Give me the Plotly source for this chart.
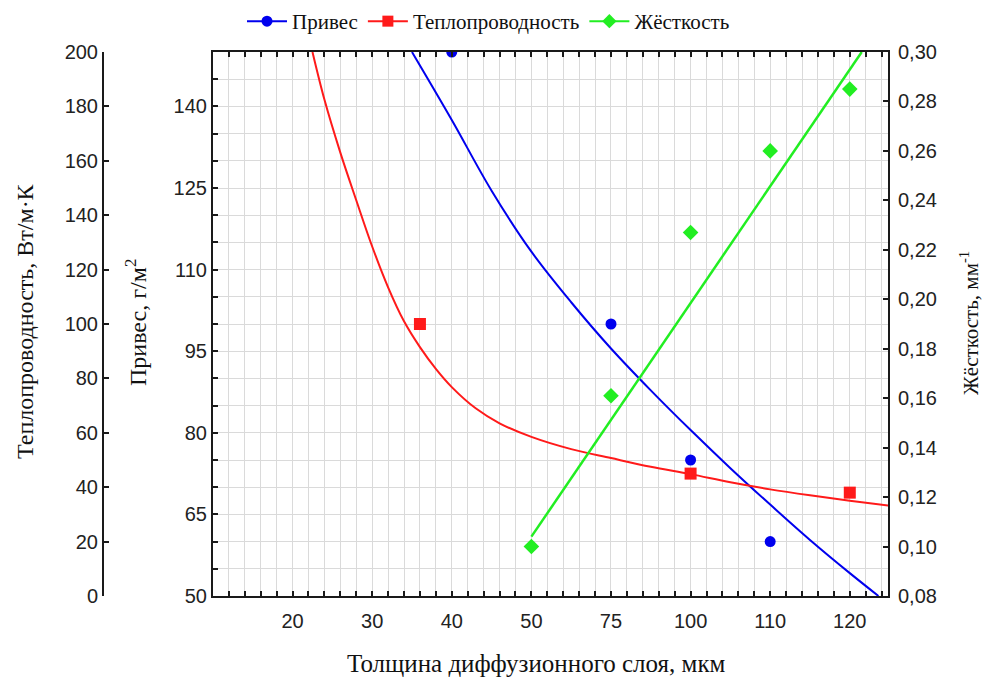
import plotly.graph_objects as go

# x positions of the tick labels along the thickness axis (evenly spaced)
x_pos = [20, 30, 40, 50, 60, 70, 80, 90]
x_labels = ["20", "30", "40", "50", "75", "100", "110", "120"]

# Привес, г/м2 — measured points and fitted curve
weight_x = [40, 60, 70, 80]
weight_y = [150, 100, 75, 60]
weight_fit_x = [35, 40, 45, 50, 55, 60, 65, 70, 75, 80, 85, 90, 93.6]
weight_fit_y = [150, 137.5, 124.5, 113.3, 104, 95.5, 87.8, 80.5, 73.5, 66.8, 60.3, 54.2, 50]

# Теплопроводность, Вт/м·К — measured points and fitted curve
cond_x = [36, 70, 90]
cond_y = [100, 45, 38]
cond_fit_x = [22.5, 24, 26, 28, 30, 32, 34, 36, 38, 40, 43, 46, 50, 55, 60, 65, 70, 75, 80, 85, 90, 95]
cond_fit_y = [200, 182.5, 163, 145.5, 128.5, 113.5, 101, 91.5, 83.5, 76.8, 69, 63.5, 58.5, 54,
              50.7, 47.5, 44.8, 41.8, 39.2, 37, 35, 33.2]

# Жёсткость, мм-1 — measured points and linear fit
stiff_x = [50, 60, 70, 80, 90]
stiff_y = [0.10, 0.161, 0.227, 0.26, 0.285]
stiff_fit_x = [50, 91.5]
stiff_fit_y = [0.104, 0.30]

BLUE = "#0000ee"
RED = "#ff1a1a"
GREEN = "#22ee22"
SANS = "Liberation Sans, Arial, sans-serif"
SERIF = "Liberation Serif, Times New Roman, serif"

fig = go.Figure()

# fitted curves
fig.add_trace(go.Scatter(x=weight_fit_x, y=weight_fit_y, mode="lines", line=dict(color=BLUE, width=2, shape="spline"),
                         showlegend=False, yaxis="y"))
fig.add_trace(go.Scatter(x=cond_fit_x, y=cond_fit_y, mode="lines", line=dict(color=RED, width=2, shape="spline"),
                         showlegend=False, yaxis="y2"))
fig.add_trace(go.Scatter(x=stiff_fit_x, y=stiff_fit_y, mode="lines", line=dict(color=GREEN, width=2.5),
                         showlegend=False, yaxis="y3"))

# measured points
fig.add_trace(go.Scatter(x=weight_x, y=weight_y, mode="markers", showlegend=False,
                         marker=dict(color=BLUE, size=11, symbol="circle"), yaxis="y"))
fig.add_trace(go.Scatter(x=cond_x, y=cond_y, mode="markers", showlegend=False,
                         marker=dict(color=RED, size=12, symbol="square"), yaxis="y2"))
fig.add_trace(go.Scatter(x=stiff_x, y=stiff_y, mode="markers", showlegend=False,
                         marker=dict(color=GREEN, size=12, symbol="diamond"), yaxis="y3"))

# legend entries: line through marker
for name, col, sym, ax in [("Привес", BLUE, "circle", "y"),
                           ("Теплопроводность", RED, "square", "y2"),
                           ("Жёсткость", GREEN, "diamond", "y3")]:
    fig.add_trace(go.Scatter(x=[None], y=[None], mode="lines+markers", name=name, yaxis=ax,
                             line=dict(color=col, width=2), marker=dict(color=col, size=11, symbol=sym)))

grid_col = "#dadada"
axis_col = "#1a1a1a"
tick_font = dict(family=SANS, size=20, color="#222")

fig.update_layout(
    width=982, height=680,
    margin=dict(l=103, r=94, t=52, b=84, autoexpand=False),
    paper_bgcolor="white", plot_bgcolor="white",
    separators=", ",
    showlegend=True,
    legend=dict(orientation="h", xref="container", yref="container",
                x=242 / 982, y=1 - 1 / 680, xanchor="left", yanchor="top",
                font=dict(family=SERIF, size=21, color="#111"), bgcolor="rgba(0,0,0,0)",
                itemwidth=40, tracegroupgap=0),
    xaxis=dict(domain=[0.1401, 1], range=[10, 94.8], tickmode="array", tickvals=x_pos, ticktext=x_labels,
               showgrid=True, gridcolor=grid_col, gridwidth=1, zeroline=False,
               showline=True, linecolor=axis_col, linewidth=2, mirror="ticks",
               ticks="inside", ticklen=5, tickcolor=axis_col, tickwidth=1.5,
               tickfont=tick_font, ticklabelstandoff=6,
               minor=dict(dtick=2, tick0=0, showgrid=True, gridcolor=grid_col, gridwidth=1,
                          ticks="inside", ticklen=5, tickcolor=axis_col, tickwidth=1.5)),
    yaxis=dict(range=[50, 150], tickmode="array", tickvals=[50, 65, 80, 95, 110, 125, 140],
               showgrid=True, gridcolor=grid_col, gridwidth=1, zeroline=False,
               showline=True, linecolor=axis_col, linewidth=2,
               ticks="inside", ticklen=5, tickcolor=axis_col, tickwidth=1.5,
               tickfont=tick_font,
               minor=dict(dtick=5, tick0=0, showgrid=True, gridcolor=grid_col, gridwidth=1,
                          ticks="inside", ticklen=5, tickcolor=axis_col, tickwidth=1.5)),
    yaxis2=dict(range=[0, 200], dtick=20, overlaying="y", side="left", anchor="free", position=0,
                showgrid=False, zeroline=False, showline=True, linecolor=axis_col, linewidth=2,
                ticks="inside", ticklen=5, tickcolor=axis_col, tickwidth=1.5, tickfont=tick_font),
    yaxis3=dict(range=[0.08, 0.30], dtick=0.02, tick0=0, tickformat=".2f", overlaying="y", side="right",
                anchor="x", showgrid=False, zeroline=False, showline=True, linecolor=axis_col, linewidth=2,
                ticks="inside", ticklen=5, tickcolor=axis_col, tickwidth=1.5, tickfont=tick_font,
                ticklabelstandoff=4),
)


def px_x(X):
    return (X - 103) / 785


def px_y(Y):
    return (596 - Y) / 544


fig.add_annotation(text="Теплопроводность, Вт/м·К", xref="paper", yref="paper", x=px_x(25), y=px_y(321),
                   xanchor="center", yanchor="middle", textangle=-90, showarrow=False,
                   font=dict(family=SERIF, size=24, color="#111"))
fig.add_annotation(text="Привес, г/м<sup>2</sup>", xref="paper", yref="paper", x=px_x(136), y=px_y(323),
                   xanchor="center", yanchor="middle", textangle=-90, showarrow=False,
                   font=dict(family=SERIF, size=24, color="#111"))
fig.add_annotation(text="Жёсткость, мм<sup>-1</sup>", xref="paper", yref="paper", x=px_x(969), y=px_y(323),
                   xanchor="center", yanchor="middle", textangle=-90, showarrow=False,
                   font=dict(family=SERIF, size=21, color="#111"))
fig.add_annotation(text="Толщина диффузионного слоя, мкм", xref="paper", yref="paper", x=px_x(536), y=px_y(663),
                   xanchor="center", yanchor="middle", showarrow=False,
                   font=dict(family=SERIF, size=25, color="#111"))

fig.write_html("out.html")
